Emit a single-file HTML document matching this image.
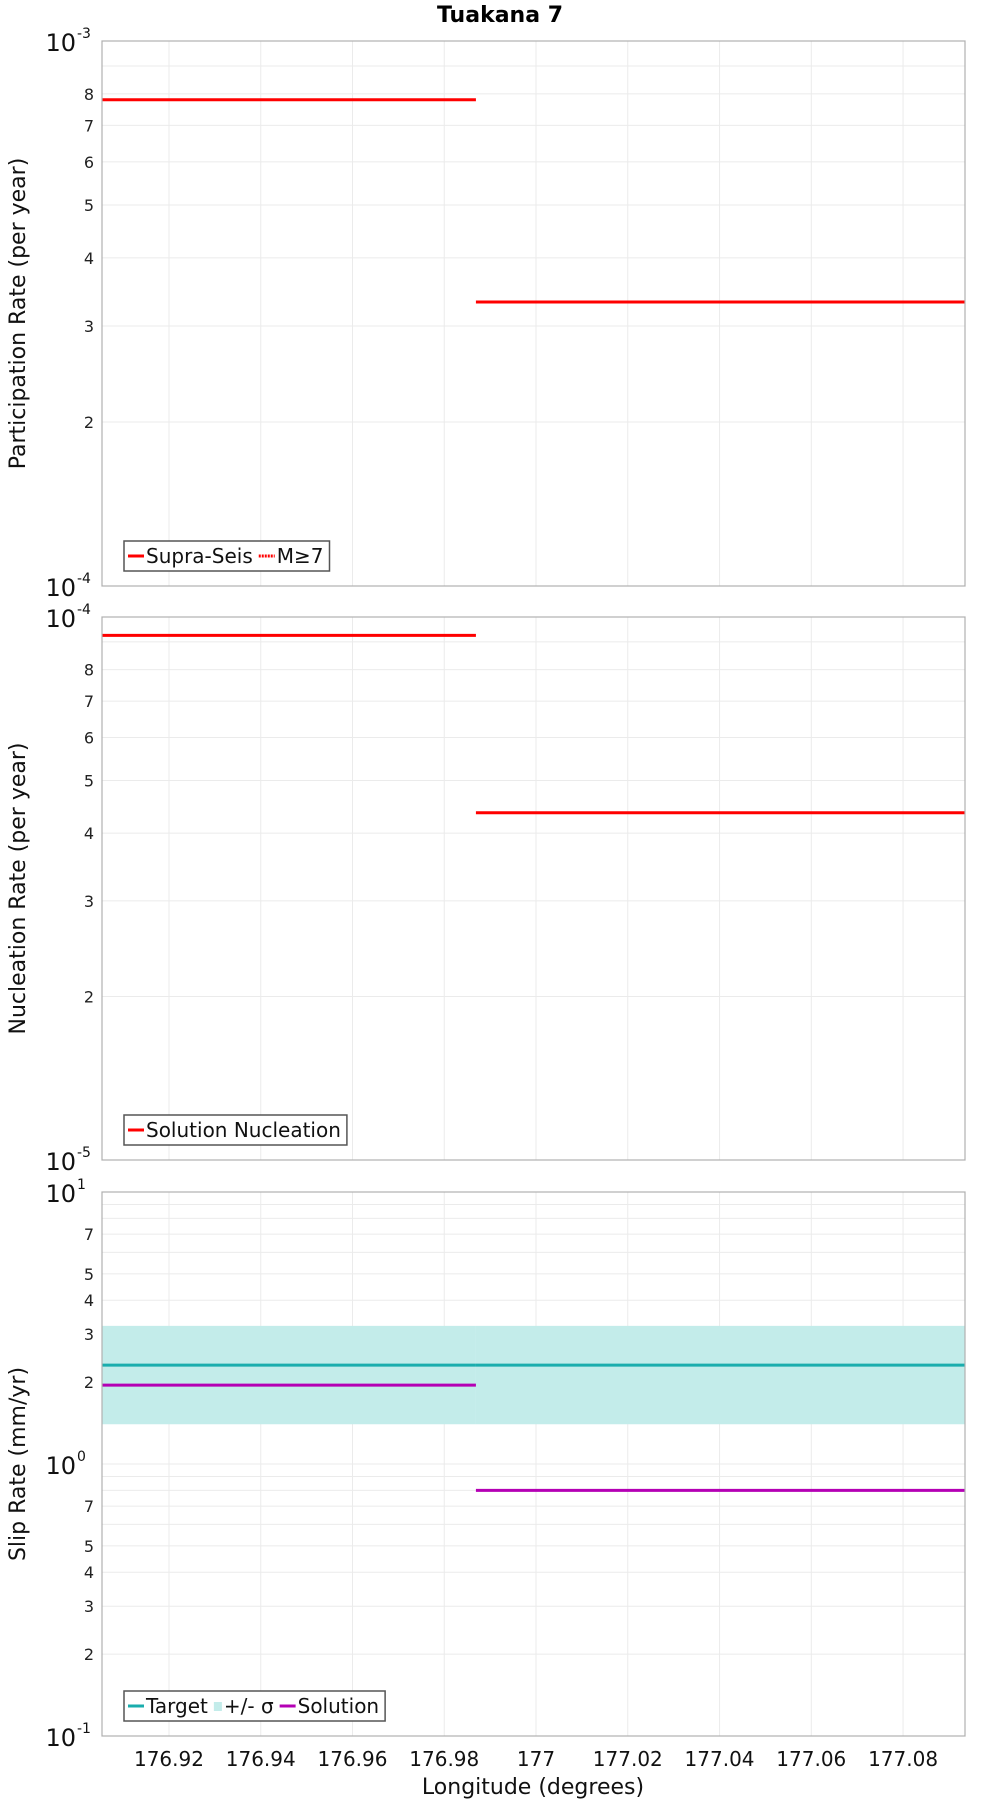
<!DOCTYPE html>
<html><head><meta charset="utf-8"><style>
body{margin:0;background:#fff;}
svg{font-family:"DejaVu Sans","Liberation Sans",sans-serif;}
</style></head><body>
<svg id="chart" width="1000" height="1800" xmlns="http://www.w3.org/2000/svg"></svg>
<script>
const xTicks=[176.92,176.94,176.96,176.98,177,177.02,177.04,177.06,177.08];
const xTickLabels=["176.92","176.94","176.96","176.98","177","177.02","177.04","177.06","177.08"];
const segX=[176.9054,176.9869,177.0935];
const partVals=[7.8e-4,3.32e-4];
const nuclVals=[9.25e-5,4.36e-5];
const targetVals=[2.31,2.31];
const sigmaVals=[0.91,0.91];
const solVals=[1.95,0.80];

const svg=document.getElementById('chart');
const NS='http://www.w3.org/2000/svg';
const L=102,R=965,xmin=176.9054,xmax=177.0935;
function X(v){return L+(v-xmin)/(xmax-xmin)*(R-L);}
function mk(tag,attrs,parent){const e=document.createElementNS(NS,tag);for(const k in attrs)e.setAttribute(k,attrs[k]);(parent||svg).appendChild(e);return e;}

const panels=[
 {top:41,bot:586,lo:-4,hi:-3,name:'participation',title:'Participation Rate (per year)',minor:[2,3,4,5,6,7,8]},
 {top:617,bot:1160,lo:-5,hi:-4,name:'nucleation',title:'Nucleation Rate (per year)',minor:[2,3,4,5,6,7,8]},
 {top:1192,bot:1736,lo:-1,hi:1,name:'slip',title:'Slip Rate (mm/yr)',minor:[2,3,4,5,7]}
];
function Yf(p){return v=>p.bot-(Math.log10(v)-p.lo)/(p.hi-p.lo)*(p.bot-p.top);}

mk('text',{x:500,y:22,'text-anchor':'middle','font-size':22,'font-weight':'bold',}).textContent='Tuakana 7';

panels.forEach((p,pi)=>{
  const g=mk('g',{});
  
  
  const Y=Yf(p);
  xTicks.forEach(t=>{const l=mk('line',{x1:X(t),x2:X(t),y1:p.top,y2:p.bot,stroke:'#ebebeb','stroke-width':1},g);
    });
  for(let d=p.lo;d<p.hi;d++){for(let m=1;m<=9;m++){const v=m*Math.pow(10,d);const y=Y(v);
    const l=mk('line',{x1:L,x2:R,y1:y,y2:y,stroke:'#ebebeb','stroke-width':1},g);
    
    if(m>1&&p.minor.includes(m)){const t=mk('text',{x:L-8,y:y+6,'text-anchor':'end','font-size':16,fill:'#222'},g);t.textContent=String(m);
      }
  }}
  for(let d=p.lo;d<=p.hi;d++){const y=Y(Math.pow(10,d));
    const t=mk('text',{x:L-26,y:y+10,'text-anchor':'end','font-size':24,fill:'#111'},g);t.textContent='10';
    
    const s=mk('text',{x:L-25,y:y-3,'text-anchor':'start','font-size':14,fill:'#111'},g);s.textContent=String(d);
    }
  const cy=(p.top+p.bot)/2;
  const at=mk('text',{x:0,y:0,transform:`translate(25,${cy}) rotate(-90)`,'text-anchor':'middle','font-size':22,fill:'#111'},g);
  at.textContent=p.title;

  function seg(vals,color,nm){for(let i=0;i<vals.length;i++){const y=Y(vals[i]);
    const l=mk('line',{x1:X(segX[i]),x2:X(segX[i+1]),y1:y,y2:y,stroke:color,'stroke-width':3},g);
    }}
  if(pi===0){seg(partVals,'#ff0000','supra-seis-line');}
  if(pi===1){seg(nuclVals,'#ff0000','nucleation-line');}
  if(pi===2){
    for(let i=0;i<targetVals.length;i++){const y1=Y(targetVals[i]+sigmaVals[i]),y2=Y(targetVals[i]-sigmaVals[i]);
      const r=mk('rect',{x:X(segX[i]),y:y1,width:X(segX[i+1])-X(segX[i]),height:y2-y1,fill:'#c3ecea'},g);
      }
    seg(targetVals,'#1aadad','target-line');
    seg(solVals,'#b400b4','solution-line');
  }
  const fr=mk('rect',{x:L,y:p.top,width:R-L,height:p.bot-p.top,fill:'none',stroke:'#b0b0b0','stroke-width':1.2},g);
  

  const lg=mk('g',{},g);
  const ly=p.bot-45;
  let items;
  if(pi===0)items=[['line','#ff0000','Supra-Seis'],['dot','#ff0000','M≥7']];
  if(pi===1)items=[['line','#ff0000','Solution Nucleation']];
  if(pi===2)items=[['line','#1aadad','Target'],['box','#c3ecea','+/- σ'],['line','#b400b4','Solution']];
  let x=L+24;const box=mk('rect',{x:L+22,y:ly,width:10,height:30,fill:'#fff',stroke:'#555','stroke-width':1.5},lg);
  items.forEach(it=>{
    const e=mk('g',{},lg);
    if(it[0]==='box'){mk('rect',{x:x+2,y:ly+11,width:8,height:9,fill:it[1]},e);x+=12;}
    else{mk('line',{x1:x+2,x2:x+18,y1:ly+15,y2:ly+15,stroke:it[1],'stroke-width':3,'stroke-dasharray':it[0]==='dot'?'2,1':'none'},e);x+=20;}
    const t=mk('text',{x:x,y:ly+22,'font-size':20,fill:'#111'},e);t.textContent=it[2];
    x+=t.getComputedTextLength()+4;
  });
  box.setAttribute('width',x-(L+22)+2);
});
xTicks.forEach((t,i)=>{const e=mk('text',{x:X(t),y:1766,'text-anchor':'middle','font-size':20,fill:'#111'});e.textContent=xTickLabels[i];
  });
const xt=mk('text',{x:533,y:1794,'text-anchor':'middle','font-size':22,fill:'#111'});xt.textContent='Longitude (degrees)';

</script>
</body></html>
